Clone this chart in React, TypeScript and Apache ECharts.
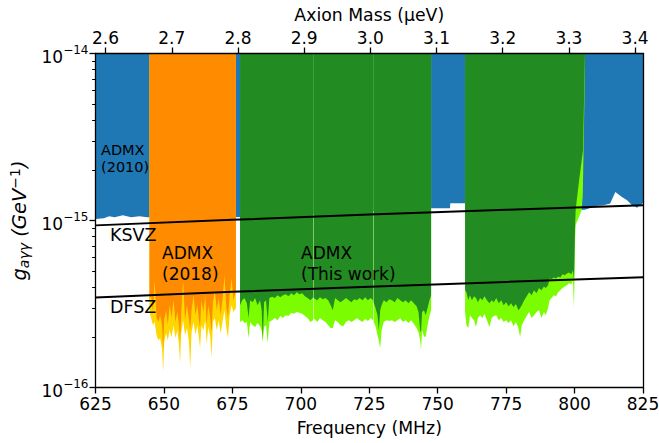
import React, { useEffect, useRef } from "react";
import * as echarts from "echarts";

// Units: frequency in MHz, coupling limits in units of 1e-16 GeV^-1
const UNIT = 1e-16;
const UEV_PER_MHZ = 4.135667696e-3;

const freqTicks = [625, 650, 675, 700, 725, 750, 775, 800, 825];
const massTicks = [2.6, 2.7, 2.8, 2.9, 3.0, 3.1, 3.2, 3.3, 3.4];
const minorMultipliers = [2, 3, 4, 5, 6, 7, 8, 9];

// ADMX 2010 exclusion lower edge
const admx2010: [number, number][] = [
  [625, 10.2], [628, 10.3], [630, 10.6], [632, 10.45], [635, 10.75], [638, 10.45],
  [641, 10.6], [644, 10.45], [660, 10.5], [676, 10.5], [678, 10.5], [700, 10.8],
  [747.5, 11.85], [754.5, 11.85], [754.6, 12.7], [760, 12.7], [790, 11.5],
  [803.7, 11.6], [805.5, 11.85], [807.5, 12.2], [810.6, 12.35], [813.0, 12.65],
  [814.9, 14.8], [817.3, 13.85], [819.2, 13.2], [821.0, 12.35], [822.5, 12.06],
  [822.8, 11.9], [823.1, 12.06], [825, 12.75],
];

// ADMX 2018
const run2018Freq = [644.7, 645.3, 646.0, 646.6, 647.3, 648.0, 648.6, 649.3, 649.7, 650.1, 650.8, 651.4, 652.1, 652.8, 653.5, 654.2, 654.9, 655.5, 655.9, 656.3, 657.0, 657.7, 658.4, 659.1, 659.6, 660.1, 660.8, 661.5, 662.2, 662.8, 663.2, 663.7, 664.4, 665.1, 665.6, 666.2, 666.9, 667.4, 667.9, 668.6, 669.3, 670.0, 670.7, 671.4, 672.1, 672.8, 673.4, 674.0, 674.7, 675.4, 676.3];
const run2018Ksvz = [3.33, 3.57, 2.83, 4.39, 2.61, 2.47, 2.71, 2.36, 1.67, 2.53, 2.90, 2.36, 3.11, 2.61, 3.33, 2.47, 2.83, 2.36, 1.92, 2.71, 4.39, 2.53, 3.11, 2.61, 2.20, 2.90, 3.57, 2.71, 3.11, 2.53, 2.27, 3.33, 2.83, 3.57, 2.36, 3.11, 2.61, 2.14, 3.24, 3.82, 2.90, 3.43, 2.71, 3.33, 4.70, 2.99, 2.61, 3.57, 4.50, 3.33, 3.82];
const run2018Wide = [2.83, 2.61, 2.36, 2.47, 2.06, 1.92, 1.97, 1.72, 1.24, 1.87, 2.11, 1.92, 2.20, 2.00, 2.36, 1.97, 2.20, 1.79, 1.40, 2.11, 2.53, 2.06, 2.27, 1.92, 1.31, 2.14, 2.47, 2.08, 2.36, 1.97, 1.72, 2.36, 2.20, 2.53, 1.82, 2.30, 2.03, 1.52, 2.47, 2.61, 2.20, 2.53, 2.11, 2.47, 2.90, 2.27, 1.97, 2.71, 3.11, 2.83, 2.99];

// This work, first block (null = small gap)
const run1Freq = [677.8, 678.6, 679.4, 680.3, 680.9, 681.5, 682.4, 683.3, 684.2, 685.1, 685.7, 686.1, 686.6, 687.3, 687.9, 688.5, 689.5, 690.5, 691.5, 692.5, 693.5, 694.5, 695.5, 696.5, 697.5, 698.5, 699.5, 700.5, 701.5, 702.5, 703.5, 704.5, 704.6, 704.7, 706.0, 707.0, 708.0, 709.0, 710.0, 710.9, 711.7, 712.5, 713.5, 714.5, 715.5, 716.5, 717.5, 718.5, 719.5, 720.5, 721.5, 722.5, 723.5, 724.5, 725.5, 726.4, 726.5, 726.6, 727.3, 728.0, 728.5, 729.0, 729.5, 730.3, 731.3, 732.3, 733.3, 734.3, 735.3, 736.3, 737.3, 738.3, 739.3, 740.3, 741.3, 742.3, 743.0, 743.6, 743.9, 744.3, 745.0, 745.6, 746.3, 747.0, 747.6];
const run1Dark: (number | null)[] = [3.11, 3.33, 3.43, 3.20, 2.61, 3.33, 3.24, 3.43, 3.11, 3.33, 2.90, 1.92, 3.24, 3.33, 2.47, 3.43, 3.50, 3.43, 3.57, 3.47, 3.57, 3.62, 3.52, 3.67, 3.57, 3.72, 3.62, 3.67, 3.52, 3.43, 3.33, 3.47, null, 3.43, 3.33, 3.47, 3.38, 3.43, 3.33, 3.11, 2.90, 3.43, 3.33, 3.24, 3.33, 3.43, 3.33, 3.24, 3.38, 3.33, 3.43, 3.33, 3.47, 3.33, 3.43, 3.33, null, 3.24, 2.99, 2.71, 2.20, 2.90, 3.11, 3.33, 3.24, 3.38, 3.33, 3.24, 3.43, 3.33, 3.24, 3.33, 3.20, 3.33, 3.20, 3.07, 2.83, 2.20, 2.14, 2.83, 2.90, 2.71, 2.99, 3.33, 3.57];
const run1Light: (number | null)[] = [2.47, 2.53, 2.43, 2.47, 1.97, 2.47, 2.36, 2.30, 2.43, 2.33, 2.20, 1.87, 2.30, 2.36, 1.84, 2.47, 2.53, 2.61, 2.53, 2.68, 2.61, 2.71, 2.68, 2.80, 2.76, 2.83, 2.80, 2.76, 2.68, 2.61, 2.47, 2.53, null, 2.61, 2.47, 2.61, 2.53, 2.47, 2.36, 2.27, 2.27, 2.53, 2.47, 2.36, 2.33, 2.47, 2.53, 2.47, 2.53, 2.61, 2.53, 2.47, 2.57, 2.50, 2.61, 2.53, null, 2.47, 2.33, 2.06, 1.92, 1.72, 2.20, 2.47, 2.53, 2.50, 2.53, 2.47, 2.53, 2.61, 2.47, 2.53, 2.43, 2.53, 2.40, 2.27, 2.14, 1.92, 1.67, 2.20, 2.03, 2.00, 2.36, 2.68, 2.90];

// This work, second block
const run2Freq = [760.0, 760.5, 761.2, 761.8, 762.5, 763.3, 764.0, 764.7, 765.5, 766.3, 767.1, 768.0, 768.9, 769.7, 770.5, 771.4, 772.3, 773.2, 774.1, 775.0, 775.9, 776.8, 777.7, 778.6, 779.5, 780.1, 780.7, 781.6, 782.5, 783.4, 784.3, 785.2, 786.1, 787.0, 787.9, 788.8, 789.5, 790.3, 790.9, 791.6, 792.4, 793.2, 794.0, 794.8, 795.6, 796.4, 797.2, 798.0, 798.8, 799.4, 799.8];
const run2Dark = [3.82, 3.72, 3.33, 3.57, 3.33, 3.52, 3.43, 3.24, 3.43, 3.33, 3.52, 3.33, 3.20, 3.33, 3.24, 3.43, 3.20, 3.33, 3.11, 3.24, 3.07, 3.20, 3.03, 3.16, 2.90, 2.99, 3.11, 3.33, 3.52, 3.72, 3.57, 3.82, 3.67, 3.94, 3.82, 4.02, 3.94, 4.10, 4.50, 4.45, 4.56, 4.50, 4.62, 4.56, 4.76, 4.70, 4.82, 4.89, 4.76, 5.04, 4.39];
const run2Light = [2.83, 2.36, 2.27, 2.71, 2.61, 2.53, 2.30, 2.61, 2.71, 2.61, 2.76, 2.53, 2.30, 2.61, 2.68, 2.71, 2.53, 2.61, 2.47, 2.53, 2.43, 2.53, 2.33, 2.47, 2.27, 2.00, 2.36, 2.53, 2.68, 2.83, 2.61, 2.71, 2.83, 2.90, 2.61, 2.83, 2.71, 2.99, 3.33, 3.43, 3.57, 3.52, 3.72, 3.82, 3.94, 4.02, 4.10, 4.21, 4.15, 4.39, 2.99];
const run2DarkTail: [number, number][] = [[800.2, 9.4], [800.4, 11.5], [800.8, 13.2], [801.7, 17.6], [803.1, 26.4], [803.8, 100]];
const run2LightTail: [number, number][] = [[800.2, 7.6], [800.4, 9.4], [802.6, 11.5], [803.0, 14.2], [803.3, 26.4], [803.6, 52.5], [803.85, 100]];

// Benchmark model lines
const modelFreq = [625, 675, 725, 775, 825];
const ksvz = [9.35, 10.10, 10.85, 11.59, 12.34];
const dfsz = [3.46, 3.74, 4.01, 4.29, 4.57];

const FONT = "DejaVu Sans";

function pairs(fs: number[], vs: (number | null)[]) {
  return fs.map((f, i) => [f, vs[i] == null ? "-" : (vs[i] as number) * UNIT]);
}
function scaled(p: [number, number][]) {
  return p.map(([f, v]) => [f, v * UNIT]);
}
function band(name: string, data: any[], color: string) {
  return {
    name,
    type: "line",
    data,
    symbol: "none",
    showSymbol: false,
    silent: true,
    connectNulls: false,
    lineStyle: { width: 0, opacity: 0 },
    areaStyle: { color, opacity: 1, origin: "end" },
    xAxisIndex: 0,
    yAxisIndex: 0,
  };
}
function model(name: string, vals: number[]) {
  return {
    name,
    type: "line",
    data: modelFreq.map((f, i) => [f, vals[i] * UNIT]),
    symbol: "none",
    showSymbol: false,
    silent: true,
    lineStyle: { color: "#000", width: 2 },
    z: 5,
  };
}
function label(text: string, x: number, y: number, size: number) {
  return {
    type: "text",
    x,
    y,
    z: 100,
    silent: true,
    style: {
      text,
      fill: "#000",
      fontSize: size,
      fontFamily: FONT,
      align: "left",
      verticalAlign: "middle",
      textAlign: "left",
      textVerticalAlign: "middle",
    },
  };
}

const minorTickValues: number[] = [];
[-16, -15].forEach((d) => minorMultipliers.forEach((m) => minorTickValues.push(d + Math.log10(m))));

const axisLineStyle = { color: "#000", width: 1.3 };

const option: any = {
  animation: false,
  backgroundColor: "#fff",
  grid: { left: 95.5, top: 53.5, width: 547.5, height: 334, containLabel: false, outerBoundsMode: "none" },
  xAxis: [
    {
      type: "value",
      position: "bottom",
      min: 625,
      max: 825,
      interval: 25,
      z: 10,
      axisLine: { show: true, lineStyle: axisLineStyle },
      axisTick: { show: true, length: 6, lineStyle: axisLineStyle },
      axisLabel: { color: "#000", fontSize: 17, fontFamily: FONT, margin: 8, customValues: freqTicks },
      splitLine: { show: false },
      name: "Frequency (MHz)",
      nameLocation: "middle",
      nameGap: 32,
      nameTextStyle: { color: "#000", fontSize: 17.3, fontFamily: FONT },
    },
    {
      type: "value",
      position: "top",
      min: 625 * UEV_PER_MHZ,
      max: 825 * UEV_PER_MHZ,
      z: 10,
      axisLine: { show: true, lineStyle: axisLineStyle },
      axisTick: { show: true, length: 6, lineStyle: axisLineStyle, customValues: massTicks },
      axisLabel: {
        color: "#000",
        fontSize: 17,
        fontFamily: FONT,
        margin: 7,
        customValues: massTicks,
        formatter: (v: number) => v.toFixed(1),
      },
      splitLine: { show: false },
      name: "Axion Mass (µeV)",
      nameLocation: "middle",
      nameGap: 30,
      nameTextStyle: { color: "#000", fontSize: 17.3, fontFamily: FONT },
    },
  ],
  yAxis: [
    {
      type: "log",
      logBase: 10,
      min: 1e-16,
      max: 1e-14,
      position: "left",
      z: 10,
      axisLine: { show: true, lineStyle: axisLineStyle },
      axisTick: { show: true, length: 6, lineStyle: axisLineStyle },
      minorTick: { show: false },
      splitLine: { show: false },
      axisLabel: {
        margin: 7,
        formatter: (v: number) => {
          const e = Math.round(Math.log10(v));
          return `{b|10}{s|−${Math.abs(e)}}`;
        },
        rich: {
          b: { fontSize: 17, fontFamily: FONT, color: "#000", padding: [7, 0, 0, 0] },
          s: { fontSize: 12, fontFamily: FONT, color: "#000", padding: [0, 0, 7, 0] },
        },
      },
      name: "{i|g}{sub|aγγ}{i| (GeV}{sup|−1}{i|)}",
      nameLocation: "middle",
      nameRotate: 90,
      nameGap: 53,
      nameTextStyle: {
        rich: {
          i: { fontSize: 19.5, fontFamily: FONT, fontStyle: "italic", color: "#000" },
          sub: { fontSize: 14, fontFamily: FONT, fontStyle: "italic", color: "#000", padding: [8, 0, 0, 0] },
          sup: { fontSize: 14, fontFamily: FONT, color: "#000", padding: [0, 0, 10, 0] },
        },
      },
    },
    {
      type: "value",
      min: -16,
      max: -14,
      position: "left",
      z: 10,
      axisLine: { show: false },
      axisLabel: { show: false },
      splitLine: { show: false },
      axisTick: { show: true, length: 3.4, lineStyle: { color: "#000", width: 1 }, customValues: minorTickValues },
    },
    {
      type: "value",
      min: 0,
      max: 1,
      position: "right",
      z: 10,
      axisLine: { show: true, lineStyle: axisLineStyle },
      axisTick: { show: false },
      axisLabel: { show: false },
      splitLine: { show: false },
    },
  ],
  series: [
    band("ADMX 2010", scaled(admx2010), "#1f77b4"),
    band("ADMX 2018 wide", pairs(run2018Freq, run2018Wide), "#ffd700"),
    band("ADMX 2018", pairs(run2018Freq, run2018Ksvz), "#ff8c00"),
    band("This work A wide", pairs(run1Freq, run1Light), "#7cfc00"),
    band("This work A", pairs(run1Freq, run1Dark), "#228b22"),
    band("This work B wide", [...pairs(run2Freq, run2Light), ...scaled(run2LightTail)], "#7cfc00"),
    band("This work B", [...pairs(run2Freq, run2Dark), ...scaled(run2DarkTail)], "#228b22"),
    model("KSVZ", ksvz),
    model("DFSZ", dfsz),
  ],
  graphic: [
    label("ADMX", 101, 149.5, 14.5),
    label("(2010)", 101, 166.5, 14.5),
    label("KSVZ", 110, 235, 17.5),
    label("ADMX", 162, 253, 17),
    label("(2018)", 162, 274, 17),
    label("ADMX", 301, 253, 17),
    label("(This work)", 301, 273.5, 17),
    label("DFSZ", 110, 307, 17.5),
  ],
};

export default function App() {
  const ref = useRef<HTMLDivElement>(null);
  useEffect(() => {
    if (!ref.current) return;
    const chart = echarts.init(ref.current, null, { renderer: "svg" });
    chart.setOption(option);
    return () => chart.dispose();
  }, []);
  return (
    <div
      ref={ref}
      style={{ position: "absolute", left: 0, top: 0, width: 659, height: 443 }}
    />
  );
}
